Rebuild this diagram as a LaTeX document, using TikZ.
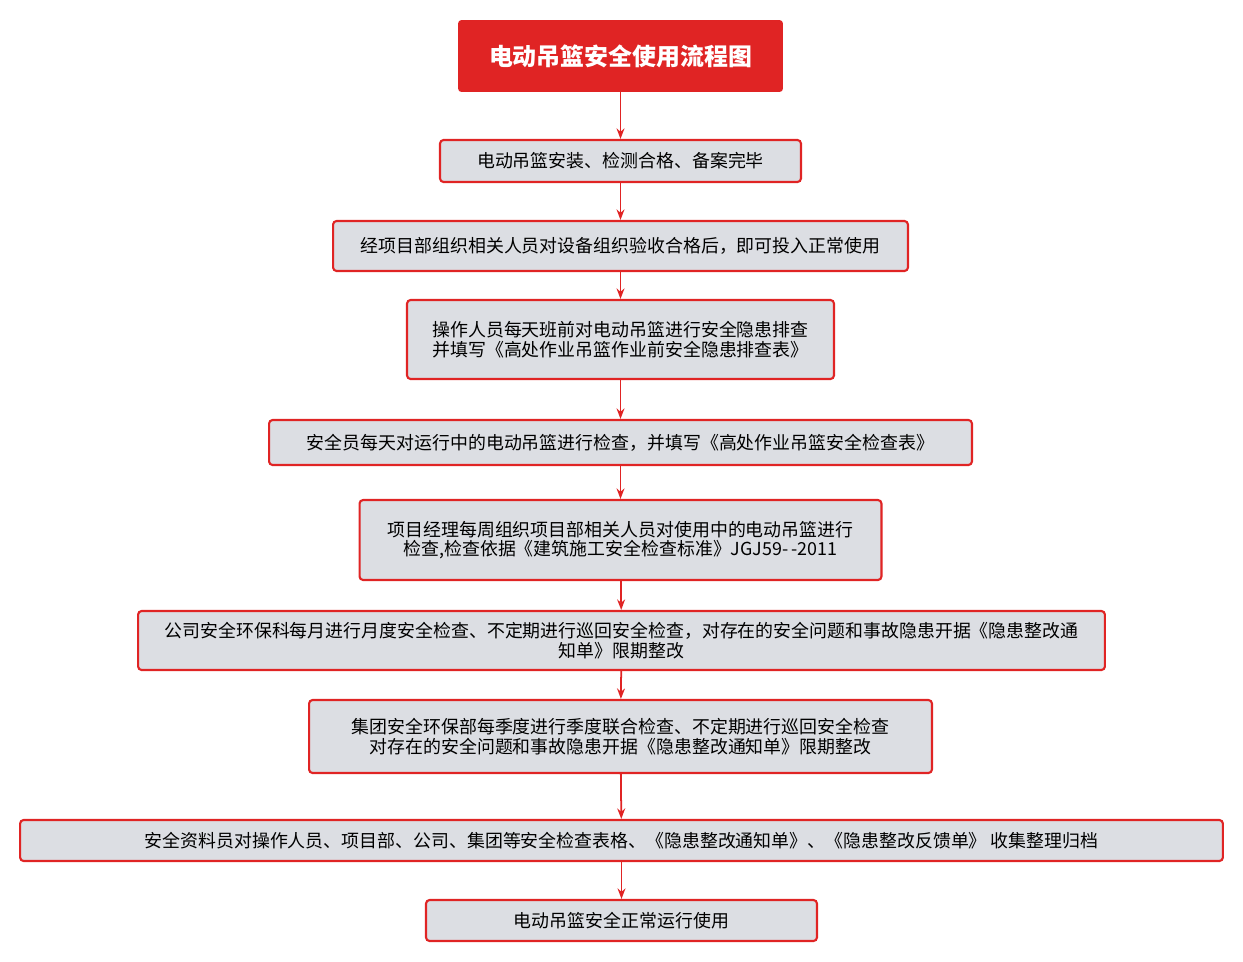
\documentclass[tikz,border=0pt]{standalone}
\usepackage{fontspec}
\setmainfont{Noto Sans CJK SC}
\usetikzlibrary{arrows.meta}
\definecolor{boxred}{HTML}{E02424}
\definecolor{boxgray}{HTML}{DCDEE3}
\tikzset{
  stepbox/.style={draw=boxred, fill=boxgray, line width=1.2pt, rounded corners=2pt,
    align=center, font=\fontsize{10.2}{11.2}\selectfont, inner sep=0pt},
  titlebox/.style={fill=boxred, rounded corners=2pt, text=white,
    font=\fontsize{13.6}{16}\selectfont\bfseries, inner sep=0pt},
  flow/.style={-{Stealth[length=6pt]}, draw=boxred, line width=1pt}
}
\begin{document}
\begin{tikzpicture}[x=0.02cm,y=-0.02cm]
  \useasboundingbox (0,0) rectangle (1243,961);
  \node[titlebox, minimum width=6.5cm, minimum height=1.44cm] (t) at (620.5,56) {电动吊篮安全使用流程图};
  \node[stepbox, minimum width=7.22cm, minimum height=0.84cm] (s1) at (620.5,161) {电动吊篮安装、检测合格、备案完毕};
  \node[stepbox, minimum width=11.5cm, minimum height=1.0cm] (s2) at (620.5,246) {经项目部组织相关人员对设备组织验收合格后，即可投入正常使用};
  \node[stepbox, minimum width=8.54cm, minimum height=1.58cm] (s3) at (620.5,339.5) {操作人员每天班前对电动吊篮进行安全隐患排查\\并填写《高处作业吊篮作业前安全隐患排查表》};
  \node[stepbox, minimum width=14.06cm, minimum height=0.9cm] (s4) at (620.5,442.5) {安全员每天对运行中的电动吊篮进行检查，并填写《高处作业吊篮安全检查表》};
  \node[stepbox, minimum width=10.44cm, minimum height=1.6cm] (s5) at (620.5,540) {项目经理每周组织项目部相关人员对使用中的电动吊篮进行\\检查,检查依据《建筑施工安全检查标准》JGJ59-\,-2011};
  \node[stepbox, minimum width=19.34cm, minimum height=1.18cm] (s6) at (621.5,640.5) {公司安全环保科每月进行月度安全检查、不定期进行巡回安全检查，对存在的安全问题和事故隐患开据《隐患整改通\\知单》限期整改};
  \node[stepbox, minimum width=12.46cm, minimum height=1.46cm] (s7) at (620.5,736.5) {集团安全环保部每季度进行季度联合检查、不定期进行巡回安全检查\\对存在的安全问题和事故隐患开据《隐患整改通知单》限期整改};
  \node[stepbox, minimum width=24.06cm, minimum height=0.82cm] (s8) at (621.5,840.5) {安全资料员对操作人员、项目部、公司、集团等安全检查表格、《隐患整改通知单》、《隐患整改反馈单》 收集整理归档};
  \node[stepbox, minimum width=7.82cm, minimum height=0.82cm] (s9) at (621.5,920.5) {电动吊篮安全正常运行使用};
  \foreach \a/\b in {t/s1,s1/s2,s2/s3,s3/s4,s4/s5,s5/s6,s6/s7,s7/s8,s8/s9}
    \draw[flow] (\a) -- (\b);
\end{tikzpicture}
\end{document}
